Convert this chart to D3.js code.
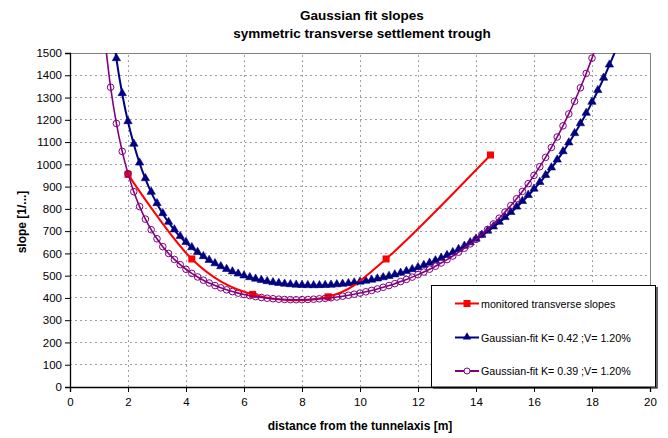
<!DOCTYPE html>
<html><head><meta charset="utf-8">
<script src="https://cdn.jsdelivr.net/npm/d3@7"></script>
<style>body{margin:0;background:#fff;} svg{display:block;font-family:"Liberation Sans",Arial,sans-serif;}</style>
</head><body><svg id="c" width="668" height="438"></svg>
<script>
// ---------- data ----------
const titleLines = ["Gaussian fit slopes", "symmetric transverse settlement trough"];
const xAxisTitle = "distance from the tunnelaxis [m]";
const yAxisTitle = "slope [1/...]";
const xTicks = [0, 2, 4, 6, 8, 10, 12, 14, 16, 18, 20];
const yTicks = [0, 100, 200, 300, 400, 500, 600, 700, 800, 900, 1000, 1100, 1200, 1300, 1400, 1500];
const seriesNames = ["monitored transverse slopes", "Gaussian-fit K= 0.42 ;V= 1.20%", "Gaussian-fit K= 0.39 ;V= 1.20%"];

const monitoredX = [2.0, 4.2, 6.3, 8.9, 10.9, 14.5];
const monitoredY = [955, 575, 416, 405, 575, 1042];

const fitX = [1.2, 1.4, 1.6, 1.8, 2.0, 2.2, 2.4, 2.6, 2.8, 3.0, 3.2, 3.4, 3.6, 3.8, 4.0, 4.2, 4.4, 4.6, 4.8, 5.0,
  5.2, 5.4, 5.6, 5.8, 6.0, 6.2, 6.4, 6.6, 6.8, 7.0, 7.2, 7.4, 7.6, 7.8, 8.0, 8.2, 8.4, 8.6, 8.8, 9.0,
  9.2, 9.4, 9.6, 9.8, 10.0, 10.2, 10.4, 10.6, 10.8, 11.0, 11.2, 11.4, 11.6, 11.8, 12.0, 12.2, 12.4, 12.6, 12.8, 13.0,
  13.2, 13.4, 13.6, 13.8, 14.0, 14.2, 14.4, 14.6, 14.8, 15.0, 15.2, 15.4, 15.6, 15.8, 16.0, 16.2, 16.4, 16.6, 16.8, 17.0,
  17.2, 17.4, 17.6, 17.8, 18.0, 18.2, 18.4, 18.6, 18.8, 19.0];

const fitK042 = [1950, 1678, 1474, 1317, 1191, 1090, 1005, 935, 874, 823, 778, 739, 705, 675, 649, 625, 604, 585, 568, 553,
  539.5, 527.4, 516.5, 506.8, 498.2, 490.5, 483.8, 477.8, 472.7, 468.2, 464.5, 461.4, 458.9, 457.0, 455.6, 454.9, 454.6, 454.8, 455.6, 456.9,
  458.6, 460.8, 463.6, 466.8, 470.4, 474.6, 479.3, 484.4, 490.1, 496.3, 503.0, 510.3, 518.1, 526.5, 535.5, 545.1, 555.3, 566.2, 577.8, 590.1,
  603.1, 617.0, 631.6, 647.1, 663.5, 680.8, 699.1, 718.5, 738.9, 760.5, 783.3, 807.4, 832.9, 859.7, 888.2, 918.1, 949.8, 983.3, 1018.7, 1056.1,
  1095.7, 1137.5, 1181.8, 1228.6, 1278.2, 1330.7, 1386.3, 1445.2, 1507.7, 1573.9];

const fitK039 = [1563.8, 1346.2, 1183.7, 1058.1, 958.2, 877.2, 810.2, 754.0, 706.4, 665.6, 630.4, 599.8, 573.0, 549.5, 528.8, 510.4, 494.2, 479.7, 466.9, 455.5,
  445.4, 436.4, 428.5, 421.6, 415.5, 410.2, 405.7, 401.9, 398.8, 396.3, 394.4, 393.1, 392.3, 392.0, 392.3, 393.0, 394.3, 396.0, 398.2, 400.9,
  404.2, 407.8, 412.0, 416.7, 421.8, 427.5, 433.8, 440.5, 447.8, 455.7, 464.2, 473.4, 483.1, 493.5, 504.7, 516.5, 529.2, 542.6, 556.9, 572.1,
  588.2, 605.4, 623.5, 642.8, 663.2, 684.9, 707.9, 732.3, 758.1, 785.6, 814.7, 845.6, 878.4, 913.2, 950.2, 989.5, 1031.2, 1075.6, 1122.8, 1172.9,
  1226.3, 1283.2, 1343.7, 1408.2, 1477.0, 1550.3, 1628.6, 1712.0, 1801.2, 1896.5];

// ---------- chart ----------
const svg = d3.select("#c");
const W = 668, H = 438;
const M = {left: 70, right: 18, top: 53, bottom: 51};
const x = d3.scaleLinear().domain([0, 20]).range([M.left, W - M.right]);
const y = d3.scaleLinear().domain([0, 1500]).range([H - M.bottom, M.top]);
const C = {red: "#ff0000", navy: "#000080", purple: "#800080"};

svg.append("rect").attr("width", W).attr("height", H).attr("fill", "#fff");

// gridlines
const grid = svg.append("g");
grid.selectAll("line.h").data(yTicks.filter(d => d > 0 && d < 1500)).join("line")
  .attr("x1", x(0)).attr("x2", x(20)).attr("y1", d => y(d)).attr("y2", d => y(d))
  .attr("stroke", "#a0a0a0").attr("stroke-dasharray", "2,3").attr("shape-rendering", "crispEdges");
grid.selectAll("line.v").data(xTicks.filter(d => d > 0 && d < 20)).join("line")
  .attr("x1", d => x(d)).attr("x2", d => x(d)).attr("y1", y(0)).attr("y2", y(1500))
  .attr("stroke", "#a0a0a0").attr("stroke-dasharray", "2,3").attr("shape-rendering", "crispEdges");
svg.append("path").attr("d", `M${x(0)},${y(1500)}H${x(20)}V${y(0)}`)
  .attr("fill", "none").attr("stroke", "#808080").attr("shape-rendering", "crispEdges");

// axes
const xAxis = d3.axisBottom(x).tickValues(xTicks).tickSize(5).tickPadding(6).tickFormat(d3.format("d"));
const yAxis = d3.axisLeft(y).tickValues(yTicks).tickSize(5).tickPadding(3).tickFormat(d3.format("d"));
const gx = svg.append("g").attr("transform", `translate(0,${y(0)})`).call(xAxis);
const gy = svg.append("g").attr("transform", `translate(${x(0)},0)`).call(yAxis);
[gx, gy].forEach(g => {
  g.select(".domain").attr("stroke", "#000").attr("stroke-width", 1.3);
  g.selectAll(".tick line").attr("stroke", "#000");
  g.selectAll(".tick text").attr("font-size", "11.5px").attr("fill", "#000")
    .attr("font-family", "Liberation Sans, Arial, sans-serif");
});

// clips
svg.append("clipPath").attr("id", "plotclip").append("rect")
  .attr("x", x(0)).attr("y", y(1500) - 4).attr("width", x(20) - x(0) + 4).attr("height", y(0) - y(1500) + 4);
const plot = svg.append("g").attr("clip-path", "url(#plotclip)");
svg.append("clipPath").attr("id", "lineclip").append("rect")
  .attr("x", x(0)).attr("y", y(1500)).attr("width", x(20) - x(0)).attr("height", y(0) - y(1500));

const monitored = monitoredX.map((d, i) => [d, monitoredY[i]]);
const fit42 = fitX.map((d, i) => [d, fitK042[i]]);
const fit39 = fitX.map((d, i) => [d, fitK039[i]]);

const smooth = d3.line().x(d => x(d[0])).y(d => y(d[1])).curve(d3.curveCatmullRom.alpha(0));
const inRange = d => d[1] <= 1500 && d[0] <= 20;

const lines = svg.append("g").attr("clip-path", "url(#lineclip)");
lines.append("path").attr("d", smooth(monitored)).attr("fill", "none").attr("stroke", C.red).attr("stroke-width", 2);
lines.append("path").attr("d", smooth(fit42)).attr("fill", "none").attr("stroke", C.navy).attr("stroke-width", 2);
lines.append("path").attr("d", smooth(fit39)).attr("fill", "none").attr("stroke", C.purple).attr("stroke-width", 1.6);

plot.selectAll("rect.m").data(monitored).join("rect")
  .attr("x", d => x(d[0]) - 3.5).attr("y", d => y(d[1]) - 3.5).attr("width", 7).attr("height", 7)
  .attr("fill", C.red);
const tri = d3.symbol().type(d3.symbolTriangle).size(30);
plot.selectAll("path.t").data(fit42.filter(inRange)).join("path")
  .attr("d", tri).attr("transform", d => `translate(${x(d[0])},${y(d[1]) - 0.5})`)
  .attr("fill", C.navy).attr("stroke", C.navy).attr("stroke-width", 0.6);
plot.selectAll("circle.c").data(fit39.filter(inRange)).join("circle")
  .attr("cx", d => x(d[0])).attr("cy", d => y(d[1])).attr("r", 3.3)
  .attr("fill", "none").attr("stroke", C.purple).attr("stroke-width", 1);

// titles
const title = svg.append("text").attr("text-anchor", "middle").attr("font-weight", "bold")
  .attr("font-size", "13.5px").attr("fill", "#000");
title.selectAll("tspan").data(titleLines).join("tspan")
  .attr("x", 362).attr("y", (d, i) => 20 + i * 18).text(d => d);
svg.append("text").attr("x", (x(0) + x(20)) / 2).attr("y", 430).attr("text-anchor", "middle")
  .attr("font-weight", "bold").attr("font-size", "12px").text(xAxisTitle);
svg.append("text").attr("transform", `translate(26,${222}) rotate(-90)`).attr("text-anchor", "middle")
  .attr("font-weight", "bold").attr("font-size", "12px").text(yAxisTitle);

// legend
const lg = svg.append("g");
lg.append("rect").attr("x", 431.5).attr("y", 285.5).attr("width", 224).attr("height", 101.5)
  .attr("fill", "#fff").attr("stroke", "#000").attr("stroke-width", 1);
lg.append("path").attr("d", "M433,388H657V287").attr("fill", "none").attr("stroke", "#000").attr("stroke-width", 1.2);
const rows = [303.5, 337.5, 371];
const legendColors = [C.red, C.navy, C.purple];
seriesNames.forEach((name, i) => {
  const gy0 = rows[i];
  lg.append("line").attr("x1", 455).attr("x2", 479).attr("y1", gy0).attr("y2", gy0)
    .attr("stroke", legendColors[i]).attr("stroke-width", 2);
  if (i === 0) lg.append("rect").attr("x", 463.5).attr("y", gy0 - 3.5).attr("width", 7).attr("height", 7).attr("fill", C.red);
  if (i === 1) lg.append("path").attr("d", tri).attr("transform", `translate(467,${gy0 - 0.5})`).attr("fill", C.navy);
  if (i === 2) lg.append("circle").attr("cx", 467).attr("cy", gy0).attr("r", 3).attr("fill", "#fff")
    .attr("stroke", C.purple);
  lg.append("text").attr("x", 481).attr("y", gy0 + 4).attr("font-size", "10.7px").attr("fill", "#000").text(name);
});
</script></body></html>
